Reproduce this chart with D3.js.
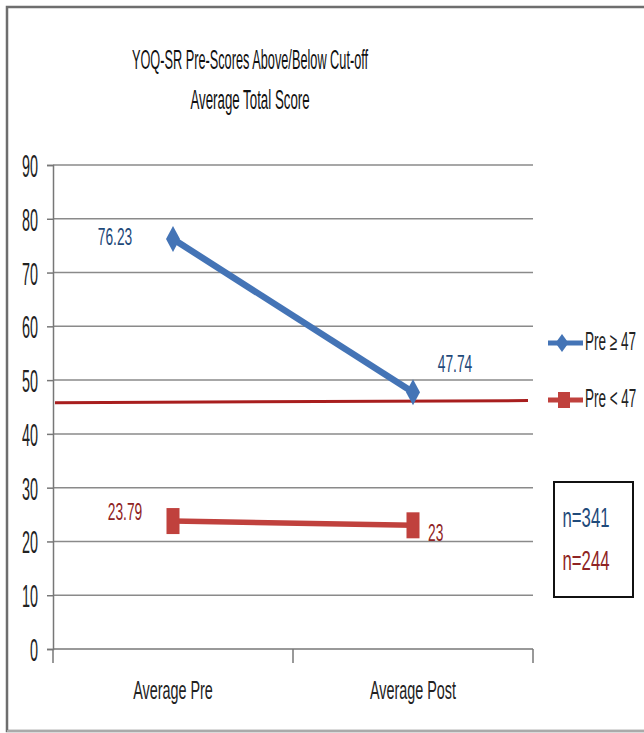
<!DOCTYPE html>
<html>
<head>
<meta charset="utf-8">
<script src="https://cdn.jsdelivr.net/npm/d3@7"></script>
<style>
  html, body { margin: 0; padding: 0; background: #fff; }
  text { font-family: "Liberation Sans", Arial, sans-serif; }
</style>
</head>
<body>
<svg id="chart" width="644" height="733"></svg>
<script>
// Chart data
const categories = ["Average Pre", "Average Post"];
const seriesNames = ["Pre \u2265 47", "Pre < 47"];
const aboveCutoff = [76.23, 47.74];
const belowCutoff = [23.79, 23];
const cutoffLine = [45.8, 46.2];
const yTicks = [0, 10, 20, 30, 40, 50, 60, 70, 80, 90];
const sampleSizes = ["n=341", "n=244"];
const titleLines = ["YOQ-SR Pre-Scores Above/Below Cut-off", "Average Total Score"];

const svg = d3.select("#chart");
const W = 644, H = 733;
const margin = { left: 53, right: 111, top: 165, bottom: 84 };

const blue = "#4474b6", blueText = "#1f4a7a";
const red = "#c0413d", redText = "#8f2424", cutRed = "#a81e1e";

// Condensed text: horizontal squeeze around the anchor point
function ctext(parent, x, y, str, o) {
  return parent.append("text")
    .attr("transform", `translate(${x},${y}) scale(${o.sx},1)`)
    .attr("text-anchor", o.anchor || "middle")
    .attr("font-size", o.size)
    .attr("fill", o.fill || "#222")
    .text(str);
}

// Outer frame
svg.append("rect").attr("x", 7).attr("y", 7).attr("width", W + 10).attr("height", 724)
  .attr("fill", "#fff").attr("stroke", "#6e6e6e").attr("stroke-width", 2.5);
svg.append("line").attr("x1", 7).attr("x2", W).attr("y1", 731).attr("y2", 731)
  .attr("stroke", "#aaa").attr("stroke-width", 2);

const x = d3.scaleBand().domain(categories).range([margin.left, W - margin.right]);
const y = d3.scaleLinear().domain([0, 90]).range([H - margin.bottom, margin.top]);

// Title
titleLines.forEach((t, i) =>
  ctext(svg, 250, 69 + i * 40, t, { size: 28, sx: i === 0 ? 0.455 : 0.475, fill: "#111" }));

// Gridlines
svg.append("g").selectAll("line").data(yTicks.slice(1)).join("line")
  .attr("x1", margin.left).attr("x2", W - margin.right)
  .attr("y1", d => y(d)).attr("y2", d => y(d))
  .attr("stroke", "#8a8a8a").attr("stroke-width", 1.5);

// Y axis
const yAxis = svg.append("g").attr("transform", `translate(${margin.left},0)`)
  .call(d3.axisLeft(y).tickValues(yTicks).tickSize(6));
yAxis.select(".domain").attr("stroke", "#777").attr("stroke-width", 1.5);
yAxis.selectAll(".tick line").attr("stroke", "#777").attr("stroke-width", 1.5);
yAxis.selectAll(".tick text")
  .attr("x", 0).attr("dy", "0.36em")
  .attr("transform", "translate(-15,0) scale(0.45,1)")
  .attr("font-size", 32).attr("fill", "#222");

// X axis (ticks at band edges)
const xAxisG = svg.append("g").attr("transform", `translate(0,${y(0)})`);
xAxisG.append("line").attr("x1", margin.left).attr("x2", W - margin.right)
  .attr("stroke", "#777").attr("stroke-width", 1.5);
const edges = [margin.left, ...categories.map(c => x(c) + x.bandwidth())];
xAxisG.selectAll("line.tk").data(edges).join("line").attr("class", "tk")
  .attr("x1", d => d).attr("x2", d => d).attr("y1", 0).attr("y2", 14)
  .attr("stroke", "#777").attr("stroke-width", 1.5);
categories.forEach(c =>
  ctext(xAxisG, x(c) + x.bandwidth() / 2, 50, c, { size: 25, sx: 0.575 }));

const cx = d => x(d) + x.bandwidth() / 2;
const line = d3.line().x(d => cx(d.c)).y(d => y(d.v));

// Cut-off reference line
svg.append("line")
  .attr("x1", margin.left + 2).attr("x2", W - margin.right - 5)
  .attr("y1", y(cutoffLine[0])).attr("y2", y(cutoffLine[1]))
  .attr("stroke", cutRed).attr("stroke-width", 3);

const diamond = (g, px, py, w, h) => g.append("path")
  .attr("d", `M${px},${py - h / 2}L${px + w / 2},${py}L${px},${py + h / 2}L${px - w / 2},${py}Z`)
  .attr("fill", blue);
const square = (g, px, py, w, h) => g.append("rect")
  .attr("x", px - w / 2).attr("y", py - h / 2).attr("width", w).attr("height", h)
  .attr("fill", red);

// Series: Pre >= 47
const s1 = categories.map((c, i) => ({ c, v: aboveCutoff[i] }));
const g1 = svg.append("g");
g1.append("path").datum(s1).attr("d", line).attr("fill", "none")
  .attr("stroke", blue).attr("stroke-width", 6.5);
s1.forEach(d => diamond(g1, cx(d.c), y(d.v), 14, 26));

// Series: Pre < 47
const s2 = categories.map((c, i) => ({ c, v: belowCutoff[i] }));
const g2 = svg.append("g");
g2.append("path").datum(s2).attr("d", line).attr("fill", "none")
  .attr("stroke", red).attr("stroke-width", 5.5);
s2.forEach(d => square(g2, cx(d.c), y(d.v), 13, 26));

// Data labels
const lab = { size: 23, sx: 0.6 };
ctext(svg, cx(categories[0]) - 58, y(aboveCutoff[0]) + 6, String(aboveCutoff[0]), { ...lab, fill: blueText });
ctext(svg, cx(categories[1]) + 42, y(aboveCutoff[1]) - 20, String(aboveCutoff[1]), { ...lab, fill: blueText });
ctext(svg, cx(categories[0]) - 48, y(belowCutoff[0]) - 1, String(belowCutoff[0]), { ...lab, fill: redText });
ctext(svg, cx(categories[1]) + 15, y(belowCutoff[1]) + 16, String(belowCutoff[1]), { ...lab, anchor: "start", fill: redText });

// Legend
const legend = svg.append("g");
const legY = [343, 400];
seriesNames.forEach((name, i) => {
  const ly = legY[i];
  legend.append("line").attr("x1", 548).attr("x2", 583).attr("y1", ly).attr("y2", ly)
    .attr("stroke", i === 0 ? blue : red).attr("stroke-width", 5);
  if (i === 0) diamond(legend, 562, ly, 13, 18); else square(legend, 564, ly, 12, 16);
  ctext(legend, 585, ly + 7, name, { size: 25, sx: 0.54, anchor: "start" });
});

// Sample size box
svg.append("rect").attr("x", 554).attr("y", 482).attr("width", 79).attr("height", 115)
  .attr("fill", "#fff").attr("stroke", "#111").attr("stroke-width", 2);
sampleSizes.forEach((t, i) =>
  ctext(svg, 586, 527 + i * 43, t, { size: 27, sx: 0.62, fill: i === 0 ? blueText : redText }));
</script>
</body>
</html>
